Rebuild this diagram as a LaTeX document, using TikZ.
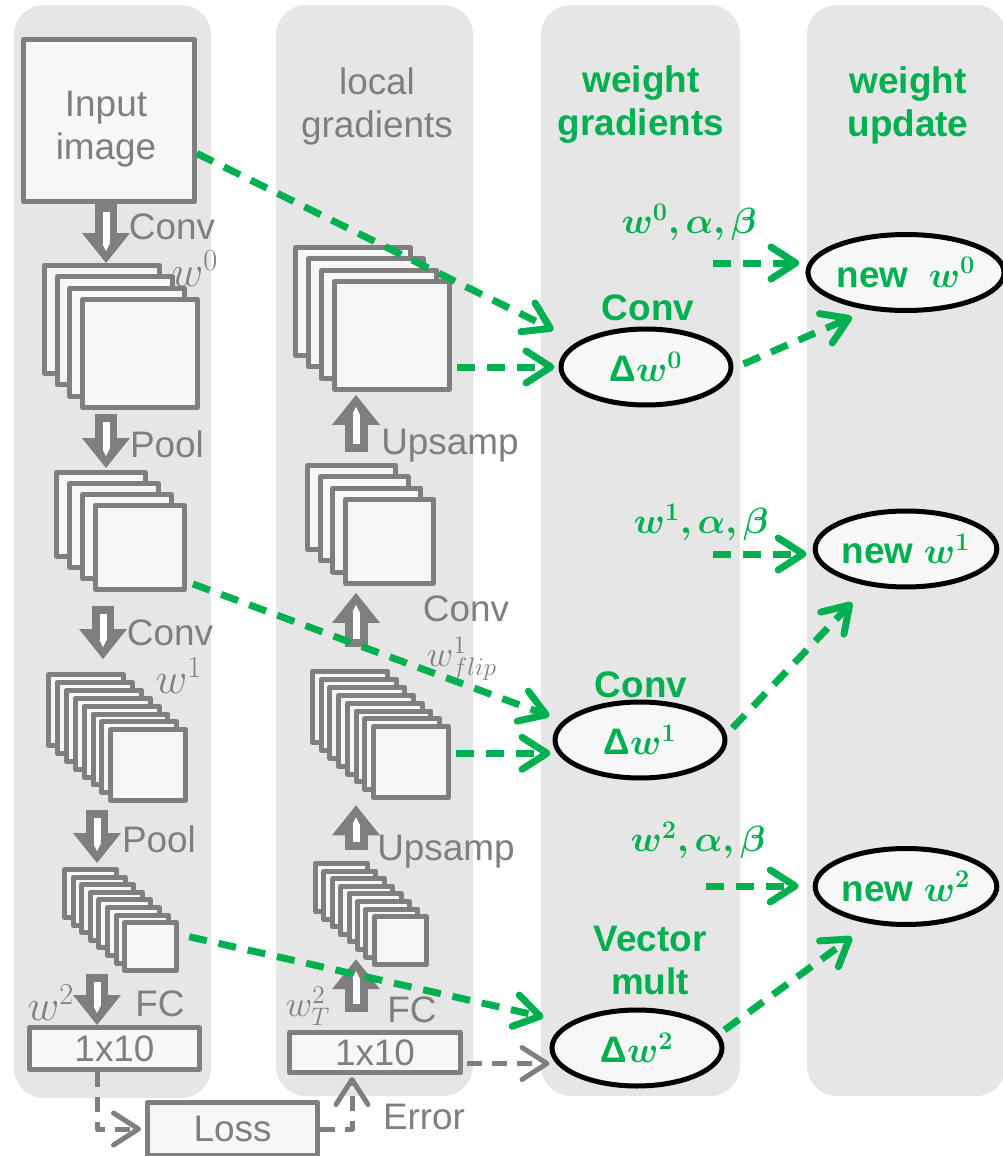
\documentclass[tikz,border=0pt]{standalone}
\usepackage{fontspec}
\setmainfont{Liberation Sans}
\usepackage{bm}
\usetikzlibrary{arrows.meta,shapes.geometric,calc}
\definecolor{fgray}{HTML}{7F7F7F}
\definecolor{colbg}{HTML}{E6E6E6}
\definecolor{mapfill}{HTML}{F7F7F7}
\definecolor{wgreen}{HTML}{00B050}
\newcommand\fmstack[8]{%
\foreach \i in {1,...,#4}
  \node[fmap,minimum width={(#5-5)*0.2mm},minimum height={(#6-5)*0.2mm}] (#1\i) at ({#2+(\i-1)*#7},{#3+(\i-1)*#8}) {};}
\newcommand\blockarr[2]{\draw[blk] #1 -- #2; \draw[blkin] #1 -- #2;}
\begin{document}
\begin{tikzpicture}[x=0.02cm, y=-0.02cm, line join=round,
  lbl/.style={text=fgray, inner sep=0, font=\lblfont, align=center},
  wlbl/.style={text=fgray, inner sep=0, font=\fontsize{25}{28}\selectfont},
  hdr/.style={text=wgreen, inner sep=0, font=\lblfont\bfseries, align=center},
  fmap/.style={draw=fgray, fill=mapfill, line width=1mm, inner sep=0, anchor=north west},
  fcbox/.style={draw=fgray, fill=mapfill, line width=1mm, inner sep=0, text=fgray, font=\lblfont, align=center},
  wnode/.style={ellipse, draw=black, line width=1mm, fill=mapfill, minimum width=34mm, minimum height=15.2mm, inner sep=0, text=wgreen, font=\lblfont\bfseries},
  blk/.style={draw=fgray, line width=4.6mm, -{Triangle[length=6mm,width=9.6mm,line width=0pt]}},
  blkin/.style={draw=white, line width=1.4mm, shorten <=1.6mm, shorten >=2.4mm, -{Triangle[length=1.4mm,width=1.4mm,line width=0pt]}},
  garr/.style={draw=wgreen, line width=1.4mm, dash pattern=on 3.6mm off 2.4mm, -{Straight Barb[length=5mm,width=6.4mm,round]}},
  darr/.style={draw=fgray, line width=1mm, dash pattern=on 3mm off 2mm, -{Straight Barb[length=5mm,width=6.4mm,round]}}]
\def\lblfont{\fontsize{21}{24.5}\selectfont}
\useasboundingbox (0,0) rectangle (1002,1156);
\fill[colbg, rounded corners=0.6cm] (14,5) rectangle (211,1098);
\fill[colbg, rounded corners=0.6cm] (276,5) rectangle (473,1096);
\fill[colbg, rounded corners=0.6cm] (541,5) rectangle (740,1096);
\fill[colbg, rounded corners=0.6cm] (807,5) rectangle (1006,1096);

\node[hdr] (tgrad) at (641,105) {weight\\gradients};
\node[hdr] (tupd) at (908,105) {weight\\update};
\node[lbl] (tlocal) at (377,106) {local\\gradients};

\node[fcbox, minimum width=34.2mm, minimum height=32.4mm] (input) at (109,120.5) {};
\node[lbl] (tin) at (106,129) {Input\\image};
\fmstack{L1}{42}{263}{4}{120}{113}{12.7}{11.3}
\fmstack{L2}{54}{470}{4}{94}{89}{13}{11}
\fmstack{L3}{46}{672}{8}{80}{76}{8.9}{7.9}
\fmstack{L4}{62}{867}{8}{57}{53}{8.6}{7.6}
\node[fcbox, minimum width=34mm, minimum height=8.4mm] (lfc) at (114.5,1048.5) {1x10};
\fmstack{M1}{293}{245}{4}{120}{113}{13}{11.3}
\fmstack{M2}{305}{463}{4}{93}{89}{12.7}{11.3}
\fmstack{M3}{310}{669}{8}{80}{76}{8.7}{7.9}
\fmstack{M4}{313}{861}{8}{57}{53}{8.4}{7.6}
\node[fcbox, minimum width=34.2mm, minimum height=8mm] (mfc) at (375,1052.5) {1x10};
\node[fcbox, minimum width=34mm, minimum height=10.6mm] (loss) at (232.5,1129) {Loss};

\path (106,0) coordinate (xA) (103,0) coordinate (xB) (97,0) coordinate (xC) (356,0) coordinate (xD) (352,0) coordinate (xE);
\path (713,263) coordinate (a0) (713,554) coordinate (a1) (706,886) coordinate (a2);

\blockarr{(xA|-input.south)}{(xA|-L11.north)}
\blockarr{($(xA|-L14.south)+(0,4)$)}{($(xA|-L21.north)+(0,-2)$)}
\blockarr{($(xB|-L24.south)+(0,14)$)}{($(xB|-L31.north)+(0,-13)$)}
\blockarr{($(xC|-L38.south)+(0,7)$)}{($(xC|-L41.north)+(0,-4)$)}
\blockarr{($(xC|-L48.south)+(0,1)$)}{(xC|-lfc.north)}
\blockarr{($(xD|-M21.north)+(0,-11)$)}{($(xD|-M14.south)+(0,3)$)}
\blockarr{($(xD|-M31.north)+(0,-22)$)}{($(xD|-M24.south)+(0,7)$)}
\blockarr{($(xD|-M41.north)+(0,-11)$)}{($(xD|-M38.south)+(0,5)$)}
\blockarr{($(xD|-mfc.north)+(0,-18)$)}{($(xD|-M48.south)+(0,-8)$)}

\node[lbl] (lconv0) at (172,227) {Conv};
\node[wlbl] (lw0) at (195,269) {$w^{0}$};
\node[lbl] (lpool0) at (167,444) {Pool};
\node[lbl] (lconv1) at (170,633) {Conv};
\node[wlbl] (lw1) at (179,676) {$w^{1}$};
\node[lbl] (lpool1) at (159,839) {Pool};
\node[wlbl] (lw2) at (51,1003) {$w^{2}$};
\node[lbl] (lfcl) at (160,1004) {FC};
\node[lbl] (mups0) at (450,446) {Upsamp};
\node[lbl] (mconv) at (466,609) {Conv};
\node[lbl] (mw1) at (462,659) {$w^{1}_{flip}$};
\node[lbl] (mups1) at (446,852) {Upsamp};
\node[lbl] (mw2) at (308,1006) {$w^{2}_{T}$};
\node[lbl] (mfcl) at (412,1010) {FC};
\node[lbl] (err) at (424,1117) {Error};

\node[hdr] (cv0) at (648,308) {Conv};
\node[hdr] (cv1) at (641,685) {Conv};
\node[hdr] (vmul) at (650,960) {Vector\\mult};
\node[hdr] (lb0) at (689,222) {$\bm{w^{0},\alpha,\beta}$};
\node[hdr] (lb1) at (701,522) {$\bm{w^{1},\alpha,\beta}$};
\node[hdr] (lb2) at (698,840) {$\bm{w^{2},\alpha,\beta}$};
\node[wnode] (dw0) at (646,367) {Δ$\bm{w^{0}}$};
\node[wnode] (dw1) at (640,740) {Δ$\bm{w^{1}}$};
\node[wnode] (dw2) at (637,1048) {Δ$\bm{w^{2}}$};
\node[wnode] (nw0) at (906,272.5) {new\ \ $\bm{w^{0}}$};
\node[wnode] (nw1) at (906,549) {new $\bm{w^{1}}$};
\node[wnode] (nw2) at (906,886.5) {new $\bm{w^{2}}$};

\draw[darr] (xC|-lfc.south) |- ($(loss.west)+(-4,0)$);
\draw[darr] (loss.east) -| ($(xE|-mfc.south)+(0,2)$);
\draw[darr] ($(mfc.east)+(4,11)$) -- ($(mfc.east -| dw2.west)+(0,11)$);

\draw[garr] ($(input.east)+(0,33)$) -- ($(dw0.west)+(-5,-37)$);
\draw[garr] ($(M14.east |- dw0.west)+(5,0)$) -- ($(dw0.west)+(-4,0)$);
\draw[garr] ($(L24.south east)+(6,-8)$) -- ($(dw1.west)+(-3,-24)$);
\draw[garr] ($(M38.east)+(5,-9)$) -- ($(M38.east -| dw1.west)+(-2,-9)$);
\draw[garr] ($(L48.east)+(10,-10)$) -- ($(dw2.west)+(-6,-31)$);
\draw[garr] ($(dw0.east)+(10,-3)$) -- ($(nw0.south)+(-54,4)$);
\draw[garr] ($(dw1.east)+(5,-12)$) -- ($(nw1.south)+(-54,13)$);
\draw[garr] ($(dw2.east)+(0,-18)$) -- ($(nw2.south)+(-54,10)$);
\draw[garr] (a0) -- ($(a0 -| nw0.west)+(-6,0)$);
\draw[garr] (a1) -- ($(a1 -| nw1.west)+(-6,0)$);
\draw[garr] (a2) -- ($(a2 -| nw2.west)+(-14,0)$);
\end{tikzpicture}
\end{document}
